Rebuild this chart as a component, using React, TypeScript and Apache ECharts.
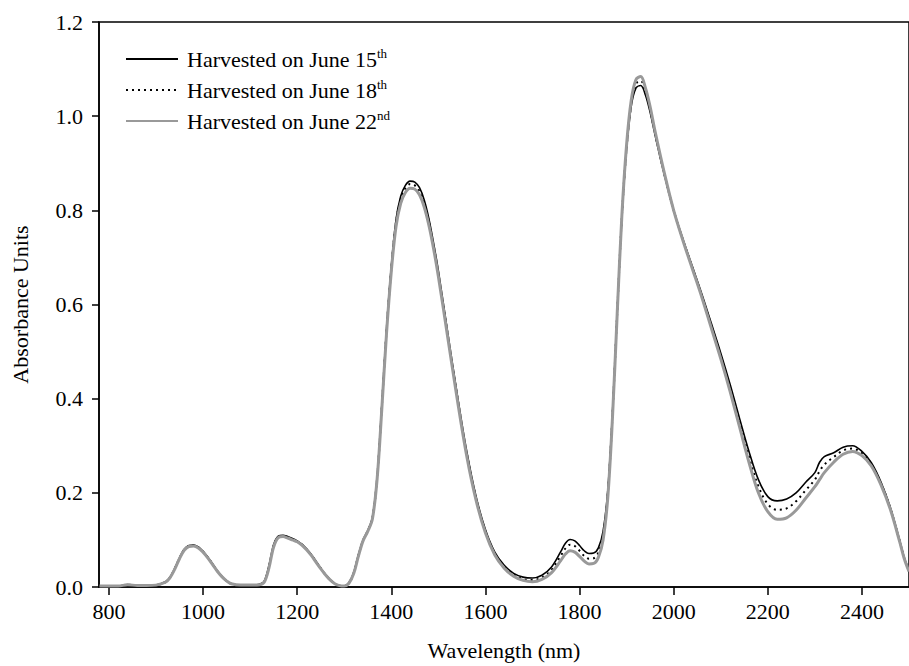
import React, { useEffect, useRef } from "react";
import * as echarts from "echarts";

const wavelengths = [780,800,820,840,860,880,900,920,930,940,
950,960,970,980,990,1000,1010,1020,1030,1040,
1050,1060,1080,1100,1120,1130,1140,1150,1160,1170,
1180,1190,1200,1210,1220,1230,1240,1250,1260,1270,
1280,1290,1300,1310,1320,1330,1340,1350,1360,1370,
1380,1390,1400,1410,1420,1430,1440,1450,1460,1470,
1480,1490,1500,1520,1540,1560,1580,1600,1620,1640,
1660,1680,1700,1720,1740,1760,1770,1780,1790,1800,
1810,1820,1830,1840,1850,1860,1870,1880,1890,1900,
1910,1920,1930,1940,1950,1960,1980,2000,2020,2040,
2060,2080,2100,2120,2140,2160,2180,2200,2220,2240,
2260,2280,2300,2310,2320,2340,2360,2380,2400,2420,
2440,2460,2480,2490,2500];

const june15 = [0.002,0.002,0.002,0.005,0.003,0.003,0.004,0.011,0.021,0.04,
0.062,0.08,0.088,0.089,0.085,0.076,0.064,0.05,0.035,0.023,
0.013,0.007,0.004,0.004,0.006,0.012,0.045,0.09,0.108,0.11,
0.107,0.103,0.098,0.091,0.081,0.069,0.055,0.04,0.027,0.016,
0.007,0.003,0.002,0.009,0.03,0.068,0.1,0.12,0.148,0.235,
0.388,0.55,0.68,0.78,0.83,0.853,0.862,0.86,0.848,0.822,
0.782,0.73,0.672,0.54,0.41,0.29,0.193,0.122,0.074,0.046,
0.029,0.021,0.019,0.025,0.042,0.075,0.093,0.101,0.098,0.088,
0.077,0.071,0.072,0.083,0.118,0.205,0.37,0.585,0.785,0.93,
1.022,1.06,1.065,1.045,1.008,0.962,0.876,0.8,0.738,0.68,
0.622,0.56,0.497,0.43,0.358,0.288,0.228,0.192,0.183,0.187,
0.2,0.222,0.243,0.265,0.277,0.285,0.297,0.3,0.288,0.264,
0.224,0.17,0.1,0.062,0.035];

const june18 = [0.002,0.002,0.002,0.005,0.003,0.003,0.004,0.01,0.02,0.039,
0.061,0.079,0.087,0.088,0.084,0.075,0.063,0.049,0.034,0.022,
0.013,0.007,0.004,0.004,0.005,0.011,0.042,0.087,0.106,0.108,
0.105,0.101,0.097,0.09,0.08,0.068,0.054,0.04,0.026,0.015,
0.007,0.003,0.002,0.008,0.029,0.066,0.099,0.119,0.146,0.232,
0.384,0.545,0.675,0.773,0.824,0.847,0.856,0.853,0.84,0.815,
0.775,0.724,0.666,0.535,0.405,0.285,0.189,0.118,0.071,0.043,
0.026,0.017,0.015,0.02,0.036,0.066,0.082,0.09,0.087,0.077,
0.066,0.06,0.061,0.073,0.108,0.198,0.365,0.582,0.788,0.935,
1.028,1.069,1.075,1.053,1.014,0.966,0.878,0.8,0.736,0.677,
0.618,0.555,0.491,0.422,0.349,0.276,0.214,0.176,0.164,0.167,
0.182,0.205,0.228,0.246,0.26,0.276,0.29,0.294,0.284,0.261,
0.221,0.168,0.098,0.061,0.034];

const june22 = [0.002,0.002,0.002,0.005,0.003,0.003,0.004,0.01,0.02,0.038,
0.06,0.078,0.086,0.087,0.083,0.074,0.062,0.048,0.034,0.022,
0.013,0.007,0.004,0.004,0.005,0.01,0.04,0.085,0.105,0.107,
0.104,0.1,0.096,0.089,0.079,0.067,0.053,0.039,0.026,0.015,
0.007,0.003,0.002,0.008,0.028,0.065,0.098,0.118,0.145,0.23,
0.38,0.54,0.67,0.765,0.815,0.838,0.847,0.845,0.833,0.807,
0.768,0.718,0.66,0.53,0.4,0.28,0.185,0.115,0.068,0.04,
0.023,0.014,0.011,0.016,0.03,0.056,0.07,0.077,0.074,0.065,
0.055,0.049,0.05,0.063,0.1,0.19,0.36,0.58,0.79,0.94,
1.035,1.078,1.084,1.06,1.02,0.97,0.88,0.8,0.735,0.675,
0.615,0.55,0.485,0.415,0.34,0.265,0.2,0.16,0.144,0.147,
0.163,0.188,0.213,0.228,0.243,0.265,0.282,0.288,0.279,0.257,
0.218,0.166,0.097,0.06,0.033];

const seriesNames = ["Harvested on June 15", "Harvested on June 18", "Harvested on June 22"];
const suffixes = ["th", "th", "nd"];
const xTicks = [800, 1000, 1200, 1400, 1600, 1800, 2000, 2200, 2400];
const xTitle = "Wavelength (nm)";
const yTitle = "Absorbance Units";

const FONT = "Liberation Serif";
const FS = 22;

export default function App() {
  const ref = useRef<HTMLDivElement>(null);
  useEffect(() => {
    if (!ref.current) return;
    const chart = echarts.init(ref.current, null, { renderer: "svg" });
    const toData = (vals: number[]) => wavelengths.map((w, i) => [w, vals[i]]);
    const styles = [
      { color: "#000000", width: 1.6, type: "solid" as any },
      { color: "#000000", width: 2, type: [2, 4] as any },
      { color: "#999999", width: 3, type: "solid" as any },
    ];
    const values = [june15, june18, june22];
    chart.setOption({
      animation: false,
      backgroundColor: "#ffffff",
      textStyle: { fontFamily: FONT, color: "#000" },
      grid: {
        left: 99, right: -7.5, top: 22, bottom: 73,
        show: true, borderColor: "#000", borderWidth: 1.5, backgroundColor: "transparent",
      },
      legend: {
        orient: "vertical",
        left: 125,
        top: 47,
        padding: 0,
        itemWidth: 52,
        itemHeight: 14,
        itemGap: 8,
        itemStyle: { opacity: 0, borderWidth: 0 },
        data: seriesNames,
        formatter: (name: string) => {
          const i = seriesNames.indexOf(name);
          return "{a|" + name + "}{s|" + suffixes[i] + "}";
        },
        textStyle: {
          fontFamily: FONT,
          color: "#000",
          rich: {
            a: { fontFamily: FONT, fontSize: FS, lineHeight: 24, color: "#000", padding: [0, 0, 0, 4] },
            s: { fontFamily: FONT, fontSize: 13, color: "#000", verticalAlign: "top", lineHeight: 24 },
          },
        },
      },
      xAxis: {
        type: "value",
        min: 779,
        max: 2500,
        name: xTitle,
        nameLocation: "middle",
        nameGap: 52,
        nameTextStyle: { fontFamily: FONT, fontSize: FS, color: "#000" },
        axisLine: { show: true, onZero: false, lineStyle: { color: "#000", width: 1.5 } },
        axisTick: { show: true, inside: false, length: 8, customValues: xTicks, lineStyle: { color: "#000", width: 1.5 } },
        axisLabel: {
          customValues: xTicks, fontFamily: FONT, fontSize: FS, color: "#000", margin: 13,
          formatter: (v: number) => String(Math.round(v)),
        },
        splitLine: { show: false },
      },
      yAxis: {
        type: "value",
        min: 0,
        max: 1.2,
        interval: 0.2,
        name: yTitle,
        nameLocation: "middle",
        nameGap: 68,
        nameTextStyle: { fontFamily: FONT, fontSize: FS, color: "#000" },
        axisLine: { show: true, lineStyle: { color: "#000", width: 1.5 } },
        axisTick: { show: true, inside: false, length: 7, lineStyle: { color: "#000", width: 1.5 } },
        axisLabel: { fontFamily: FONT, fontSize: FS, color: "#000", margin: 16, formatter: (v: number) => v.toFixed(1) },
        splitLine: { show: false },
      },
      series: seriesNames.map((name, i) => ({
        name,
        type: "line",
        data: toData(values[i]),
        showSymbol: false,
        symbol: "none",
        smooth: 0.35,
        color: styles[i].color,
        lineStyle: { color: styles[i].color, width: styles[i].width, type: styles[i].type },
        z: 2 + i,
      })),
    });
    return () => chart.dispose();
  }, []);
  return <div ref={ref} style={{ position: "absolute", left: 0, top: 0, width: 909, height: 666 }} />;
}
